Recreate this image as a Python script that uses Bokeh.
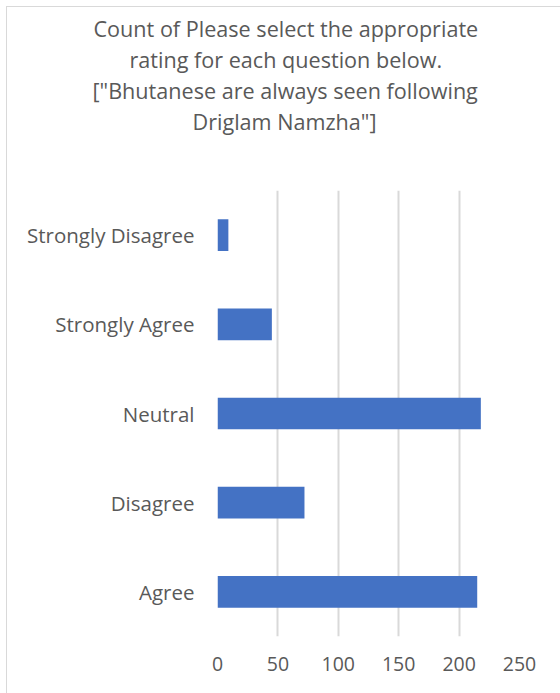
from bokeh.plotting import figure
from bokeh.models import FactorRange, Range1d, FixedTicker, Title
from bokeh.embed import file_html
from bokeh.resources import INLINE

# Survey responses and their counts
categories = ["Agree", "Disagree", "Neutral", "Strongly Agree", "Strongly Disagree"]
counts = [215, 72, 218, 45, 9]
x_ticks = [0, 50, 100, 150, 200, 250]

title_lines = [
    "Count of Please select the appropriate",
    "rating for each question below.",
    "[\"Bhutanese are always seen following",
    "Driglam Namzha\"]",
]

FONT = "Open Sans"
TEXT_COLOR = "#595959"
GRID_COLOR = "#d9d9d9"
BAR_COLOR = "#4472c4"

p = figure(
    width=554,
    height=687,
    y_range=FactorRange(factors=categories, range_padding=0),
    x_range=Range1d(0, 250),
    output_backend="svg",
    toolbar_location=None,
    min_border_left=210,
    min_border_right=42,
    min_border_top=183,
    min_border_bottom=58,
)
p.margin = (6, 0, 0, 6)
p.styles = {
    "border-left": f"1px solid {GRID_COLOR}",
    "border-top": f"1px solid {GRID_COLOR}",
}

# blank panel that keeps the title block clear of the plot area
p.add_layout(Title(text=" ", text_font_size="1px", standoff=52), "above")

# title lines, each shifted left so the block is centred on the whole chart;
# panels stack outward from the frame, so the last line goes in first
line_offsets = [-124, -88, -125, -25]
for line, off in reversed(list(zip(title_lines, line_offsets))):
    p.add_layout(Title(
        text=line, align="left", offset=off, standoff=0,
        text_font=FONT, text_font_size="21.6px", text_font_style="normal",
        text_color=TEXT_COLOR,
    ), "above")

p.hbar(y=categories, right=counts, height=0.355, left=0,
       fill_color=BAR_COLOR, line_color=None)

p.outline_line_color = None
p.background_fill_color = "white"
p.border_fill_color = "white"

# value axis
p.xaxis.ticker = FixedTicker(ticks=x_ticks)
p.xaxis.axis_line_color = None
p.xaxis.major_tick_line_color = None
p.xaxis.minor_tick_line_color = None
p.xaxis.major_label_standoff = 14
p.xaxis.major_label_text_font = FONT
p.xaxis.major_label_text_font_size = "19.5px"
p.xaxis.major_label_text_color = TEXT_COLOR

# category axis
p.yaxis.axis_line_color = None
p.yaxis.major_tick_line_color = None
p.yaxis.minor_tick_line_color = None
p.yaxis.major_label_standoff = 17
p.yaxis.major_label_text_font = FONT
p.yaxis.major_label_text_font_size = "20.5px"
p.yaxis.major_label_text_color = TEXT_COLOR

p.xgrid.grid_line_color = GRID_COLOR
p.xgrid.grid_line_width = 2
p.ygrid.grid_line_color = None

open("out.html", "w").write(file_html(p, INLINE))
